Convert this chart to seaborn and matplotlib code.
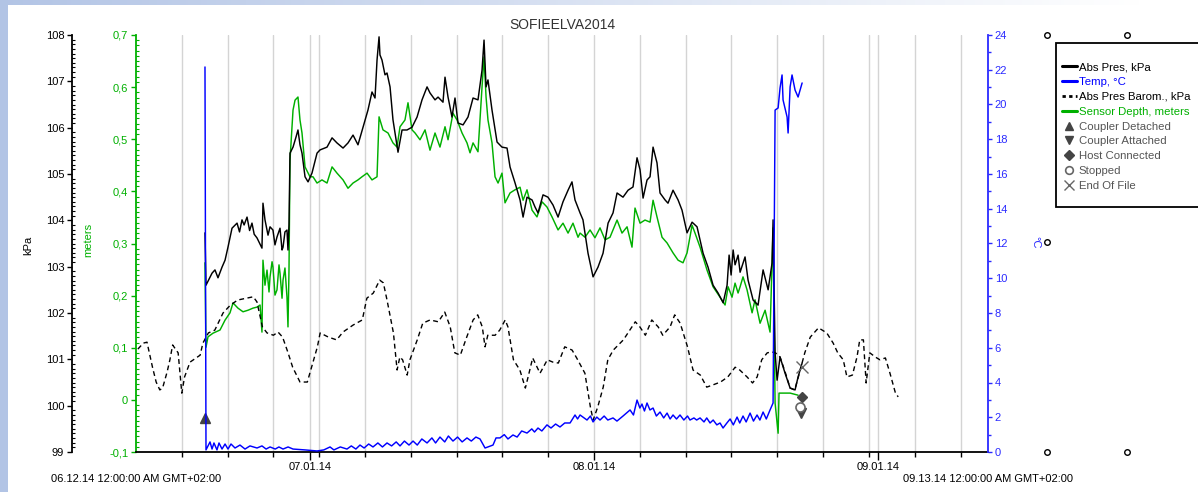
import numpy as np
import pandas as pd
import matplotlib
matplotlib.use('Agg')
import matplotlib.pyplot as plt
import matplotlib.dates as mdates
from matplotlib.lines import Line2D
from matplotlib.patches import Rectangle
from matplotlib.ticker import MultipleLocator, FuncFormatter, FixedLocator
import seaborn as sns

sns.set_theme(style='white')
plt.rcParams['font.family'] = ['Liberation Sans', 'DejaVu Sans']

START = pd.Timestamp('2014-06-12')
END = pd.Timestamp('2014-09-13')
TITLE = 'SOFIEELVA2014'

# ---- Abs Pres Barom., kPa (days since 06.12.14) ----
baro_day = [0.2, 0.8, 1.2, 1.8, 2.2, 2.6, 2.9, 3.4, 3.7, 4.0, 4.6, 5.0, 5.3, 5.9, 6.7, 7.0, 7.3, 7.9, 8.6, 9.5,
            10.3, 11.1, 12.1, 12.8, 13.2, 13.8, 14.3, 15.0, 15.5, 16.0, 16.6, 17.1, 17.9, 18.7, 19.3, 19.8, 20.1,
            21.0, 21.9, 22.6, 23.7, 24.7, 25.2, 25.9, 26.6, 27.0, 27.4, 28.1, 28.5, 28.8, 29.1, 29.6, 29.9, 30.7,
            31.3, 32.1, 33.0, 33.7, 34.3, 34.8, 35.4, 36.1, 36.8, 37.3, 37.8, 38.1, 38.4, 39.2, 39.7, 40.3, 40.6,
            41.2, 41.9, 42.5, 42.8, 43.3, 44.1, 44.9, 45.5, 46.1, 46.8, 47.6, 48.1, 49.0, 49.6, 49.9, 50.4, 51.0,
            51.5, 52.1, 53.2, 53.9, 54.5, 55.0, 55.6, 56.3, 57.0, 57.5, 58.3, 58.8, 59.4, 60.2, 60.8, 61.6, 62.3,
            63.0, 63.8, 64.6, 65.4, 65.9, 66.7, 67.3, 67.8, 68.3, 68.9, 69.4, 69.8, 70.3, 70.9, 71.4, 71.9, 72.3,
            72.7, 73.0, 73.6, 74.5, 75.4, 76.1, 76.6, 77.2, 77.6, 78.2, 78.7, 79.0, 79.4, 79.7, 80.1, 80.7, 81.2,
            81.8, 82.3, 82.9, 83.2]
baro_kpa = [101.22, 101.35, 101.37, 100.83, 100.51, 100.34, 100.38, 100.73, 100.99, 101.31, 101.14, 100.27, 100.62,
            100.94, 101.05, 101.09, 101.35, 101.57, 101.63, 102.00, 102.17, 102.28, 102.32, 102.35, 102.24, 101.70,
            101.57, 101.52, 101.59, 101.48, 101.14, 100.83, 100.51, 100.51, 100.92, 101.27, 101.57, 101.48, 101.42,
            101.59, 101.74, 101.85, 102.32, 102.43, 102.71, 102.65, 102.28, 101.57, 100.77, 101.05, 100.99, 100.66,
            100.99, 101.42, 101.78, 101.85, 101.81, 102.02, 101.70, 101.14, 101.09, 101.48, 101.85, 101.96, 101.70,
            101.27, 101.52, 101.52, 101.63, 101.85, 101.70, 100.99, 100.77, 100.38, 100.62, 101.03, 100.70, 100.99,
            100.94, 100.92, 101.27, 101.20, 101.03, 100.70, 99.97, 99.69, 99.97, 100.40, 100.99, 101.20, 101.42,
            101.63, 101.81, 101.70, 101.52, 101.85, 101.70, 101.52, 101.70, 101.96, 101.78, 101.27, 100.77, 100.66,
            100.40, 100.45, 100.51, 100.62, 100.83, 100.77, 100.62, 100.49, 100.62, 100.99, 101.14, 101.16, 101.14,
            101.05, 100.70, 100.38, 100.34, 100.62, 100.92, 101.14, 101.48, 101.68, 101.57, 101.35, 101.14, 100.99,
            100.62, 100.66, 101.05, 101.42, 101.42, 100.49, 101.14, 101.05, 100.99, 101.03, 100.70, 100.27, 100.19]

# ---- Abs Pres, kPa ----
pres_day = [7.53, 7.64, 8.30, 8.62, 8.95, 9.39, 9.72, 10.04, 10.48, 11.03, 11.30, 11.57, 11.80, 12.12, 12.40,
            12.66, 12.90, 13.21, 13.75, 13.86, 14.08, 14.41, 14.63, 14.95, 15.17, 15.39, 15.72, 15.94, 16.05, 16.26,
            16.48, 16.59, 16.70, 16.81, 17.14, 17.47, 17.68, 17.90, 18.12, 18.45, 18.78, 19.21, 19.76, 20.09, 20.85,
            21.40, 21.94, 22.60, 23.14, 23.69, 24.23, 24.78, 25.32, 25.76, 26.09, 26.31, 26.53, 26.63, 26.85, 27.18,
            27.40, 27.73, 28.05, 28.60, 29.04, 29.58, 30.13, 30.68, 31.22, 31.77, 32.09, 32.64, 32.97, 33.51, 33.73,
            34.06, 34.49, 34.82, 35.15, 35.70, 36.24, 36.79, 37.33, 37.77, 37.99, 38.21, 38.42, 38.86, 39.41, 39.95,
            40.50, 40.83, 41.37, 41.92, 42.25, 42.68, 43.23, 43.55, 43.88, 44.43, 44.97, 45.52, 46.07, 46.61, 47.16,
            47.59, 47.92, 48.47, 48.79, 49.34, 49.89, 50.43, 50.98, 51.53, 52.07, 52.51, 53.16, 53.71, 54.25, 54.69,
            55.02, 55.35, 55.78, 56.11, 56.44, 56.87, 57.20, 57.75, 58.07, 58.62, 59.17, 59.60, 60.15, 60.70, 61.24,
            61.57, 61.90, 62.44, 62.99, 63.54, 64.09, 64.52, 64.74, 64.96, 65.18, 65.39, 65.72, 65.94, 66.48, 66.81,
            67.36, 67.90, 68.45, 69.00, 69.43, 69.54, 69.76, 69.98, 70.30, 70.85, 71.40, 71.94, 72.27, 72.71]
pres_kpa = [103.73, 102.60, 102.86, 102.93, 102.76, 102.99, 103.14, 103.42, 103.83, 103.94, 103.75, 104.01, 103.90,
            104.07, 103.78, 103.94, 103.70, 103.62, 103.40, 104.37, 104.01, 103.68, 103.86, 103.79, 103.47, 103.64,
            103.83, 103.36, 103.42, 103.75, 103.79, 103.36, 103.90, 105.45, 105.58, 105.80, 105.95, 105.63, 105.45,
            104.94, 104.83, 105.02, 105.45, 105.52, 105.58, 105.78, 105.67, 105.56, 105.67, 105.84, 105.63, 106.01,
            106.38, 106.77, 106.64, 107.46, 107.96, 107.57, 107.46, 107.14, 107.18, 106.88, 106.17, 105.47, 105.95,
            105.95, 106.01, 106.23, 106.60, 106.88, 106.75, 106.60, 106.66, 106.55, 107.09, 106.66, 106.23, 106.64,
            106.10, 106.06, 106.23, 106.64, 106.60, 107.24, 107.89, 106.88, 107.03, 106.38, 105.69, 105.58, 105.56,
            105.15, 104.81, 104.44, 104.07, 104.50, 104.44, 104.29, 104.16, 104.55, 104.50, 104.33, 104.07, 104.40,
            104.65, 104.83, 104.44, 104.16, 104.01, 103.29, 102.78, 102.99, 103.29, 103.94, 104.16, 104.59, 104.50,
            104.65, 104.72, 105.35, 105.09, 104.48, 104.87, 104.94, 105.58, 105.24, 104.59, 104.44, 104.37, 104.65,
            104.44, 104.22, 103.73, 103.96, 103.86, 103.58, 103.29, 102.99, 102.60, 102.43, 102.22, 102.60, 103.25,
            102.82, 103.36, 103.04, 103.25, 102.88, 103.21, 102.71, 102.28, 102.17, 102.93, 102.50, 103.08, 104.01,
            101.14, 100.55, 101.05, 100.70, 100.38, 100.34, 100.62, 100.92]

# ---- Sensor Depth, meters ----
depth_day = [7.53, 7.64, 7.86, 8.41, 9.17, 9.72, 10.26, 10.59, 11.13, 11.68, 12.23, 12.77, 13.21, 13.54, 13.75,
             13.86, 14.08, 14.30, 14.52, 14.63, 14.85, 14.95, 15.17, 15.39, 15.61, 15.72, 15.94, 16.05, 16.26, 16.48,
             16.59, 16.70, 16.81, 17.14, 17.36, 17.68, 17.90, 18.12, 18.45, 18.99, 19.32, 19.76, 20.30, 20.85, 21.40,
             21.94, 22.60, 23.14, 23.69, 24.23, 24.67, 25.22, 25.76, 26.31, 26.53, 26.96, 27.51, 28.05, 28.49, 28.82,
             29.36, 29.69, 30.13, 30.46, 31.00, 31.55, 32.09, 32.64, 33.18, 33.73, 34.06, 34.60, 35.04, 35.59, 36.13,
             36.46, 36.79, 37.33, 37.77, 37.99, 38.21, 38.42, 38.86, 39.19, 39.52, 39.95, 40.28, 40.83, 41.37, 41.92,
             42.25, 42.68, 43.23, 43.77, 44.32, 44.86, 45.41, 46.07, 46.61, 47.16, 47.70, 48.25, 48.47, 49.01, 49.56,
             50.10, 50.65, 51.20, 51.74, 52.51, 53.05, 53.60, 54.14, 54.47, 55.02, 55.56, 56.11, 56.44, 56.87, 57.42,
             57.97, 58.62, 59.17, 59.71, 60.15, 60.70, 61.02, 61.57, 62.33, 62.99, 63.75, 64.30, 64.63, 65.06, 65.39,
             65.72, 65.94, 66.26, 66.70, 67.25, 67.57, 68.12, 68.67, 69.21, 69.43, 69.54, 69.76, 70.09, 70.19, 70.63,
             71.40, 72.27]
depth_m = [0.263, 0.101, 0.121, 0.128, 0.134, 0.153, 0.167, 0.186, 0.176, 0.169, 0.172, 0.176, 0.178, 0.182, 0.130,
           0.268, 0.220, 0.249, 0.207, 0.236, 0.265, 0.255, 0.201, 0.211, 0.259, 0.243, 0.195, 0.230, 0.253, 0.197,
           0.140, 0.249, 0.460, 0.556, 0.575, 0.581, 0.537, 0.512, 0.447, 0.428, 0.428, 0.416, 0.422, 0.416, 0.447,
           0.435, 0.422, 0.406, 0.416, 0.422, 0.428, 0.435, 0.422, 0.428, 0.543, 0.518, 0.512, 0.493, 0.485, 0.524,
           0.537, 0.570, 0.518, 0.512, 0.499, 0.518, 0.479, 0.512, 0.485, 0.524, 0.499, 0.550, 0.537, 0.512, 0.493,
           0.474, 0.493, 0.476, 0.600, 0.658, 0.581, 0.537, 0.493, 0.428, 0.416, 0.435, 0.378, 0.397, 0.403, 0.408,
           0.383, 0.403, 0.364, 0.351, 0.380, 0.370, 0.351, 0.326, 0.339, 0.320, 0.339, 0.312, 0.320, 0.312, 0.326,
           0.311, 0.330, 0.307, 0.312, 0.345, 0.320, 0.332, 0.293, 0.368, 0.339, 0.345, 0.341, 0.383, 0.351, 0.312,
           0.301, 0.282, 0.268, 0.263, 0.282, 0.335, 0.320, 0.293, 0.249, 0.217, 0.197, 0.182, 0.217, 0.197, 0.224,
           0.205, 0.217, 0.236, 0.211, 0.167, 0.192, 0.147, 0.172, 0.130, 0.268, 0.330, -0.006, -0.064, 0.013, 0.013,
           0.013, 0.009]

# ---- Temp, °C ----
temp_day = [7.53, 7.64, 7.86, 8.08, 8.30, 8.51, 8.84, 9.06, 9.39, 9.72, 10.04, 10.37, 10.81, 11.35, 11.90, 12.44,
            13.21, 13.75, 14.20, 14.63, 15.20, 15.60, 16.05, 16.60, 17.14, 18.45, 19.76, 20.50, 21.18, 21.60, 22.30,
            23.03, 23.50, 24.00, 24.45, 24.90, 25.40, 25.87, 26.40, 26.90, 27.40, 27.90, 28.40, 28.82, 29.30, 29.80,
            30.24, 30.70, 31.20, 31.77, 32.30, 32.70, 33.18, 33.70, 34.10, 34.60, 35.10, 35.60, 36.13, 36.60, 37.10,
            37.55, 38.10, 38.97, 39.30, 39.73, 40.20, 40.60, 41.15, 41.60, 42.10, 42.68, 43.20, 43.50, 43.88, 44.30,
            44.86, 45.30, 45.80, 46.28, 46.80, 47.38, 47.92, 48.20, 48.47, 49.23, 49.60, 49.89, 50.30, 50.65, 51.10,
            51.50, 52.07, 52.50, 53.16, 53.93, 54.30, 54.69, 55.00, 55.23, 55.50, 55.78, 56.10, 56.44, 56.80, 57.20,
            57.60, 57.97, 58.30, 58.62, 59.00, 59.38, 59.80, 60.20, 60.47, 60.90, 61.20, 61.57, 62.00, 62.30, 62.66,
            63.00, 63.40, 63.75, 64.08, 64.50, 64.85, 65.20, 65.61, 65.90, 66.26, 66.60, 67.03, 67.40, 67.79, 68.10,
            68.45, 68.80, 69.21, 69.54, 69.76, 70.09, 70.30, 70.52, 70.63, 71.07, 71.18, 71.40, 71.61, 71.94, 72.27,
            72.71]
temp_c = [22.16, 0.12, 0.35, 0.58, 0.17, 0.52, 0.12, 0.52, 0.17, 0.46, 0.17, 0.46, 0.23, 0.40, 0.17, 0.35,
          0.23, 0.35, 0.17, 0.29, 0.17, 0.29, 0.17, 0.29, 0.17, 0.12, 0.06, 0.12, 0.29, 0.12, 0.29,
          0.17, 0.35, 0.17, 0.40, 0.23, 0.46, 0.29, 0.52, 0.29, 0.52, 0.35, 0.58, 0.35, 0.63, 0.40,
          0.63, 0.40, 0.75, 0.52, 0.81, 0.52, 0.86, 0.58, 0.92, 0.63, 0.86, 0.58, 0.81, 0.63, 0.86,
          0.75, 0.23, 0.40, 0.81, 0.81, 1.00, 0.75, 0.98, 0.86, 1.21, 1.09, 1.33, 1.15, 1.38, 1.21,
          1.56, 1.38, 1.61, 1.44, 1.67, 1.67, 2.13, 1.90, 2.13, 1.84, 2.07, 1.73, 2.01, 1.84, 2.07,
          1.84, 1.96, 1.78, 2.07, 2.42, 2.13, 2.99, 2.53, 2.76, 2.36, 2.82, 2.42, 2.53, 2.07, 2.30,
          1.96, 2.24, 1.90, 2.13, 1.90, 2.13, 1.84, 2.07, 1.84, 1.96, 1.84, 1.96, 1.73, 1.96, 1.67,
          1.84, 1.56, 1.67, 1.38, 1.67, 1.90, 1.56, 2.01, 1.67, 2.07, 1.73, 2.24, 1.78, 2.13, 1.84,
          2.30, 1.90, 2.42, 2.82, 19.68, 19.80, 20.95, 21.70, 20.26, 19.28, 18.36, 21.01, 21.70, 20.83, 20.43,
          21.24]

# ---- logger events (plotted on kPa scale) ----
event_names = ['Coupler Detached', 'Coupler Attached', 'Host Connected', 'Stopped', 'End Of File']
event_day = [7.53, 72.6, 72.7, 72.5, 72.7]
event_kpa = [99.73, 99.84, 100.19, 99.97, 100.83]

series_names = ['Abs Pres, kPa', 'Temp, °C', 'Abs Pres Barom., kPa', 'Sensor Depth, meters']


def to_dates(days):
    return START + pd.to_timedelta(np.asarray(days, dtype=float), unit='D')


W, H = 1198, 492
PT = 72 / 100  # points per pixel at dpi 100
fig = plt.figure(figsize=(W / 100, H / 100), dpi=100)
fig.patch.set_facecolor('white')

# background frame (light blue edge gradient)
bg = fig.add_axes([0, 0, 1, 1], zorder=-10)
img = np.ones((H, W, 3))
edge = np.array([0.70, 0.77, 0.90])
frac = np.clip(np.arange(W) / (W * 0.95), 0, 1)[:, None]
img[:5, :, :] = (edge * (1 - frac) + frac * np.array([1, 1, 1]))[None, :, :]
img[:, :8, :] = edge
bg.imshow(img, extent=[0, W, H, 0], aspect='auto')
bg.axis('off')

GREEN = '#00b000'
BLUE = '#0000ff'
BLUE_AX = '#2a2aff'
L, R, T, B = 136, 988, 35, 452
ax_m = fig.add_axes([L / W, 1 - B / H, (R - L) / W, (B - T) / H])
ax_m.set_facecolor('white')
ax_p = ax_m.twinx()
ax_t = ax_m.twinx()

sns.lineplot(x=to_dates(depth_day), y=depth_m, ax=ax_m, color=GREEN, lw=1.05, estimator=None, sort=False)
sns.lineplot(x=to_dates(baro_day), y=baro_kpa, ax=ax_p, color='black', lw=1.0, estimator=None, sort=False,
             linestyle=(0, (3.5, 2.5)))
sns.lineplot(x=to_dates(pres_day), y=pres_kpa, ax=ax_p, color='black', lw=1.05, estimator=None, sort=False)
sns.lineplot(x=to_dates(temp_day), y=temp_c, ax=ax_t, color=BLUE, lw=1.05, estimator=None, sort=False)

ev_style = [dict(marker='^', mfc='#444444', mec='#444444', ms=7),
            dict(marker='v', mfc='#444444', mec='#444444', ms=7),
            dict(marker='D', mfc='#444444', mec='#444444', ms=5.5),
            dict(marker='o', mfc='white', mec='#666666', ms=6.5, mew=1.2),
            dict(marker='x', mfc='none', mec='#666666', ms=8, mew=1)]
ev_dates = to_dates(event_day)
for d, v, st in zip(ev_dates, event_kpa, ev_style):
    ax_p.plot([d], [v], ls='none', zorder=5, **st)

for a in (ax_m, ax_p, ax_t):
    a.set_xlabel('')
    a.set_ylabel('')
ax_m.set_xlim(START, END)

# x axis
ax_m.xaxis.set_major_locator(mdates.MonthLocator())
ax_m.xaxis.set_major_formatter(FuncFormatter(lambda v, p: mdates.num2date(v).strftime('%m.%d.%y')))
grid5 = pd.date_range('2014-06-17', '2014-09-12', freq='5D')
ax_m.xaxis.set_minor_locator(FixedLocator(mdates.date2num(grid5)))
ax_m.grid(True, which='both', axis='x', color='#d4d4d4', lw=1)
ax_m.grid(False, axis='y')
ax_m.tick_params(axis='x', which='major', bottom=True, length=8 * PT, width=1, color='black', direction='out',
                 labelsize=8, pad=1.5, labelcolor='black')
ax_m.tick_params(axis='x', which='minor', bottom=True, length=5 * PT, width=1, color='black', direction='out')

# meters axis (green)
ax_m.set_ylim(-0.1, 0.7)
ax_m.yaxis.set_major_locator(MultipleLocator(0.1))
ax_m.yaxis.set_minor_locator(MultipleLocator(0.01))
ax_m.yaxis.set_major_formatter(FuncFormatter(
    lambda v, p: '0' if abs(v) < 1e-9 else f'{v:.1f}'.replace('.', ',')))
ax_m.tick_params(axis='y', which='major', left=True, length=5 * PT, width=1, direction='out', color=GREEN,
                 labelcolor=GREEN, labelsize=8, pad=2)
ax_m.tick_params(axis='y', which='minor', left=True, length=3 * PT, width=0.8, direction='in', color=GREEN)
for s in ('top', 'right'):
    ax_m.spines[s].set_visible(False)
ax_m.spines['left'].set_color(GREEN)
ax_m.spines['left'].set_linewidth(1.3)
ax_m.spines['bottom'].set_color('black')
ax_m.spines['bottom'].set_linewidth(1.3)

# kPa axis (black, outer left)
ax_p.set_ylim(99, 108)
ax_p.yaxis.set_ticks_position('left')
ax_p.spines['left'].set_visible(True)
ax_p.spines['left'].set_position(('outward', 64 * PT))
ax_p.spines['left'].set_color('black')
ax_p.spines['left'].set_linewidth(1.3)
for s in ('top', 'right', 'bottom'):
    ax_p.spines[s].set_visible(False)
ax_p.yaxis.set_major_locator(MultipleLocator(1))
ax_p.yaxis.set_minor_locator(MultipleLocator(0.1))
ax_p.tick_params(axis='y', which='major', left=True, right=False, length=5 * PT, width=1, direction='out',
                 color='black', labelcolor='black', labelsize=8, pad=2)
ax_p.tick_params(axis='y', which='minor', left=True, right=False, length=3 * PT, width=0.8, direction='in',
                 color='black')

# temperature axis (blue, right)
ax_t.set_ylim(0, 24)
ax_t.yaxis.set_major_locator(MultipleLocator(2))
ax_t.yaxis.set_minor_locator(MultipleLocator(1))
ax_t.tick_params(axis='y', which='major', right=True, left=False, length=4 * PT, width=1, direction='out',
                 color=BLUE_AX, labelcolor=BLUE_AX, labelsize=8, pad=2)
ax_t.tick_params(axis='y', which='minor', right=True, left=False, length=3 * PT, width=1, direction='out',
                 color=BLUE_AX)
for s in ('top', 'left', 'bottom'):
    ax_t.spines[s].set_visible(False)
ax_t.spines['right'].set_color(BLUE_AX)
ax_t.spines['right'].set_linewidth(1.3)

# texts
fig.text(562 / W, 1 - 25 / H, TITLE, ha='center', va='center', fontsize=10, color='#333333')
fig.text(28 / W, 1 - 245 / H, 'kPa', rotation=90, ha='center', va='center', fontsize=8, color='black')
fig.text(88 / W, 1 - 240 / H, 'meters', rotation=90, ha='center', va='center', fontsize=8, color=GREEN)
fig.text(1035 / W, 1 - 242 / H, '°C', rotation=270, ha='center', va='center', fontsize=8, color=BLUE_AX)
fig.text(L / W, 1 - 479 / H, START.strftime('%m.%d.%y') + ' 12:00:00 AM GMT+02:00', ha='center', va='center',
         fontsize=8, color='black')
fig.text(R / W, 1 - 479 / H, END.strftime('%m.%d.%y') + ' 12:00:00 AM GMT+02:00', ha='center', va='center',
         fontsize=8, color='black')

# anchor circles in right margin
for (px, py) in [(1047, 35), (1127, 35), (1047, 242), (1047, 452), (1127, 452)]:
    fig.add_artist(Line2D([px / W], [1 - py / H], marker='o', ms=4, mfc='white', mec='black', mew=1,
                          ls='none', transform=fig.transFigure))

# legend box + entries
fig.add_artist(Rectangle((1056 / W, 1 - 207 / H), 170 / W, 164 / H, transform=fig.transFigure,
                         facecolor='white', edgecolor='black', lw=1.3, zorder=3))
handles = [Line2D([], [], color='black', lw=2.2),
           Line2D([], [], color=BLUE, lw=2.2),
           Line2D([], [], color='black', lw=2, ls=(0, (1.2, 1.2))),
           Line2D([], [], color=GREEN, lw=2.2)]
for st in ev_style:
    handles.append(Line2D([], [], ls='none', **{**st, 'ms': st['ms'] * 0.85}))
labels = series_names + event_names
leg = fig.legend(handles, labels, loc='upper left', bbox_to_anchor=(1062 / W, 1 - 62 / H),
                 borderaxespad=0, borderpad=0, frameon=False,
                 fontsize=8.2, labelspacing=0.43, handlelength=1.3, handletextpad=0.15,
                 labelcolor=['black', BLUE, 'black', GREEN, '#555555', '#555555', '#555555', '#555555',
                             '#555555'])
leg.set_zorder(4)

fig.savefig('out.png', dpi=100)
